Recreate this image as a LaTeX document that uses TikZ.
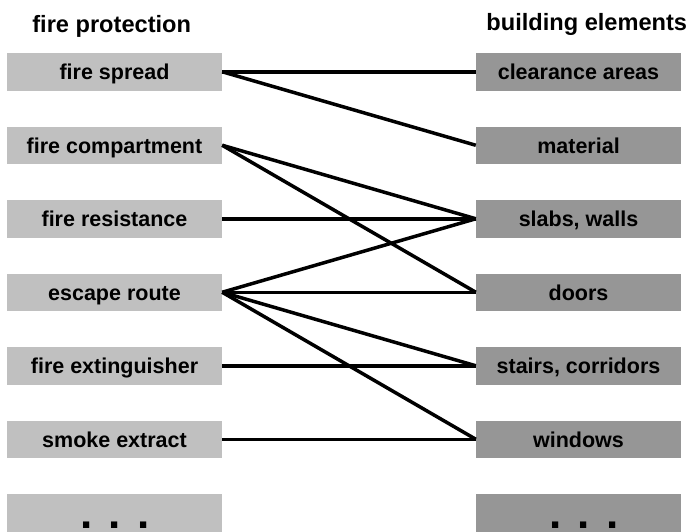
\documentclass[tikz,border=0pt]{standalone}
\usepackage{fontspec}
\setmainfont{Liberation Sans}
\usepackage{xcolor}
\usetikzlibrary{calc}

\definecolor{protgray}{RGB}{192,192,192}
\definecolor{elemgray}{RGB}{150,150,150}

\tikzset{
	protbox/.style = {fill=protgray, minimum width=215pt, minimum height=37.5pt, inner sep=0pt,
		font=\bfseries\fontsize{21.5}{26}\selectfont, text height=15.5pt, text depth=0pt},
	elembox/.style = {protbox, fill=elemgray, minimum width=205pt},
	heading/.style = {anchor=base, inner sep=0pt, font=\bfseries\fontsize{23.6}{28}\selectfont},
	dots/.style = {anchor=base, inner sep=0pt, font=\bfseries\fontsize{44}{50}\selectfont},
	link/.style = {line width=3.5pt}
}

\begin{document}
\begin{tikzpicture}[x=1pt, y=-1pt]
			\def\xl{114.5};
			\def\xr{578.5};
			\def\dy{73.5};
			\def\ytop{71.75};

			\useasboundingbox (0,0) rectangle (688,531);

			\node[heading] (protection title) at (111.7,32.7) {fire protection};
			\node[heading] (elements title) at (586.8,30) {building elements};

			% fire protection
			\node[protbox] (spread) at (\xl,\ytop) {fire spread};
			\node[protbox] (compartment) at (\xl,\ytop+\dy) {fire compartment};
			\node[protbox] (resistance) at (\xl,\ytop+2*\dy) {fire resistance};
			\node[protbox] (escape) at (\xl,\ytop+3*\dy) {escape route};
			\node[protbox] (extinguisher) at (\xl,\ytop+4*\dy) {fire extinguisher};
			\node[protbox] (smoke) at (\xl,\ytop+5*\dy) {smoke extract};
			\node[protbox] (more prot) at (\xl,\ytop+6*\dy) {};
			\node[dots] (prot dots) at (115,528.7) {. . .};

			% building elements
			\node[elembox] (clearance) at (\xr,\ytop) {clearance areas};
			\node[elembox] (material) at (\xr,\ytop+\dy) {material};
			\node[elembox] (slabs) at (\xr,\ytop+2*\dy) {slabs, walls};
			\node[elembox] (doors) at (\xr,\ytop+3*\dy) {doors};
			\node[elembox] (stairs) at (\xr,\ytop+4*\dy) {stairs, corridors};
			\node[elembox] (windows) at (\xr,\ytop+5*\dy) {windows};
			\node[elembox] (more elem) at (\xr,\ytop+6*\dy) {};
			\node[dots] (elem dots) at (584,528.7) {. . .};

			\begin{scope}[link]
				\draw (spread.east) -- (clearance.west);
				\draw (spread.east) -- (material.west);

				\draw (compartment.east) -- (slabs.west);
				\draw (compartment.east) -- (doors.west);

				\draw (resistance.east) -- (slabs.west);

				\draw (escape.east) -- (slabs.west);
				\draw (escape.east) -- (doors.west);
				\draw (escape.east) -- (stairs.west);
				\draw (escape.east) -- (windows.west);

				\draw (extinguisher.east) -- (stairs.west);
				\draw (smoke.east) -- (windows.west);
			\end{scope}
		\end{tikzpicture}
\end{document}
